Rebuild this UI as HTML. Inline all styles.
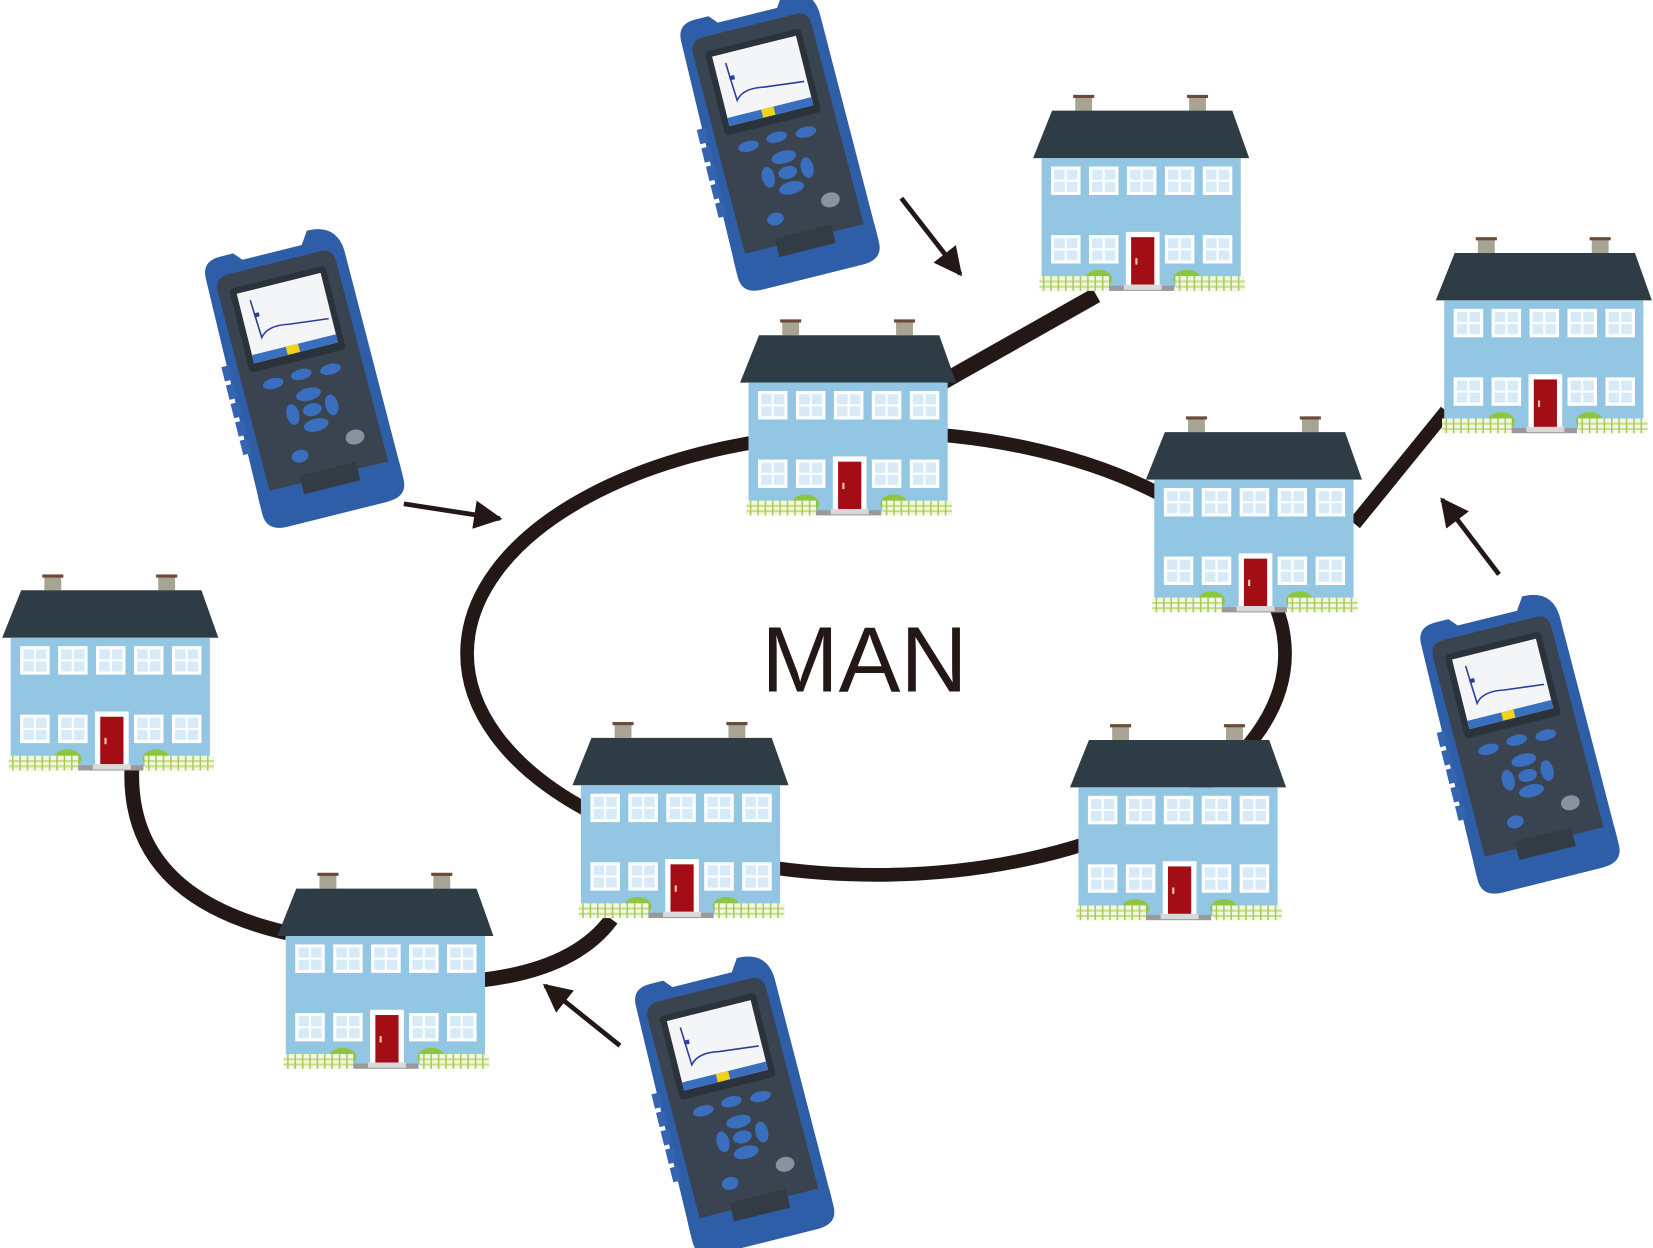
<!DOCTYPE html>
<html><head><meta charset="utf-8"><style>html,body{margin:0;padding:0;background:#fff}svg{display:block}</style></head>
<body>
<svg width="1653" height="1248" viewBox="0 0 1568 1184" xmlns="http://www.w3.org/2000/svg">
<defs>
<g id="win"><rect width="28" height="27" fill="#fff"/><rect x="3" y="3" width="10" height="9.5" fill="#d6ebf7"/><rect x="15" y="3" width="10" height="9.5" fill="#d6ebf7"/><rect x="3" y="14.5" width="10" height="9.5" fill="#d6ebf7"/><rect x="15" y="14.5" width="10" height="9.5" fill="#d6ebf7"/></g>
<g id="fence"><rect x="0" y="0" width="66" height="14" fill="#f4f8e6"/><g stroke="#c9dd8c" stroke-width="2"><line x1="0" y1="5" x2="66" y2="5"/><line x1="0" y1="10" x2="66" y2="10"/></g><g stroke="#a8cc5a" stroke-width="1.5"><line x1="4" y1="0" x2="4" y2="14"/><line x1="11" y1="0" x2="11" y2="14"/><line x1="18" y1="0" x2="18" y2="14"/><line x1="25" y1="0" x2="25" y2="14"/><line x1="32" y1="0" x2="32" y2="14"/><line x1="39" y1="0" x2="39" y2="14"/><line x1="46" y1="0" x2="46" y2="14"/><line x1="53" y1="0" x2="53" y2="14"/><line x1="60" y1="0" x2="60" y2="14"/></g></g>
<g id="house">
<rect x="40" y="-13" width="16" height="13" fill="#a8a493"/><rect x="38" y="-15" width="20" height="3" fill="#6b4a36"/>
<rect x="148" y="-13" width="16" height="13" fill="#a8a493"/><rect x="146" y="-15" width="20" height="3" fill="#6b4a36"/>
<polygon points="18,0 189,0 205,45 0,45" fill="#2e3d45"/>
<rect x="8" y="45" width="189" height="122" fill="#93c6e2"/>
<use href="#win" x="17" y="53"/><use href="#win" x="53" y="53"/><use href="#win" x="89" y="53"/><use href="#win" x="125" y="53"/><use href="#win" x="161" y="53"/>
<use href="#win" x="17" y="118"/><use href="#win" x="53" y="118"/><use href="#win" x="125" y="118"/><use href="#win" x="161" y="118"/>
<rect x="88" y="115" width="32" height="52" fill="#fff"/><rect x="93" y="120" width="22" height="45" fill="#a30d16"/><rect x="97" y="140" width="2" height="6" fill="#f5c9b0"/>
<ellipse cx="62" cy="160" rx="13" ry="9" fill="#8cc63f"/><ellipse cx="146" cy="160" rx="13" ry="9" fill="#8cc63f"/>
<use href="#fence" x="6" y="157"/><use href="#fence" x="135" y="157"/>
<rect x="72" y="166" width="62" height="5" fill="#9a9a9a"/><rect x="86" y="165" width="36" height="5" fill="#d9d9d9"/>
</g>
<g id="dev">
<path d="M-66,-115 Q-66,-132 -48,-132 L-35,-132 L-28,-124 L30,-124 L38,-136 Q66,-136 68,-110 L70,110 Q70,132 48,132 L-48,132 Q-68,132 -68,110 Z" fill="#2f5ea8"/>
<path d="M-58,-100 Q-58,-114 -44,-114 L46,-114 Q58,-114 58,-100 L60,95 L-56,95 Z" fill="#3a4450"/>
<rect x="-47" y="-100" width="94" height="82" rx="4" fill="#2a323b"/>
<rect x="-41" y="-94" width="82" height="68" fill="#f3f5f7"/>
<rect x="-41" y="-34" width="82" height="8" fill="#3a6fc0"/><rect x="-8" y="-34" width="12" height="8" fill="#f2d31a"/>
<path d="M-30,-85 L-28,-48 Q-20,-58 0,-54 L38,-50" stroke="#2d3c9a" stroke-width="1.5" fill="none"/>
<rect x="-30" y="-72" width="5" height="4" fill="#2d3c9a"/>
<ellipse cx="-28" cy="-3" rx="10" ry="5" fill="#3a6fc0"/><ellipse cx="0" cy="-5" rx="10" ry="5" fill="#3a6fc0"/><ellipse cx="28" cy="-3" rx="10" ry="5" fill="#3a6fc0"/>
<ellipse cx="2" cy="15" rx="12" ry="6" fill="#3a6fc0"/><ellipse cx="2" cy="45" rx="12" ry="6" fill="#3a6fc0"/><ellipse cx="-17" cy="30" rx="6" ry="10" fill="#3a6fc0"/><ellipse cx="21" cy="30" rx="6" ry="10" fill="#3a6fc0"/><ellipse cx="2" cy="30" rx="9" ry="6" fill="#3a6fc0"/>
<ellipse cx="-20" cy="70" rx="8" ry="6" fill="#3a6fc0"/><ellipse cx="35" cy="65" rx="9" ry="7" fill="#8a939d"/>
<path d="M-68,98 L70,98 L70,115 Q70,132 50,132 L-48,132 Q-68,132 -68,115 Z" fill="#2f5ea8"/>
<rect x="-25" y="88" width="55" height="18" fill="#333b44"/>
<g fill="#3565b0"><rect x="-72" y="-30" width="8" height="14"/><rect x="-72" y="-12" width="8" height="14"/><rect x="-72" y="6" width="8" height="14"/><rect x="-72" y="24" width="8" height="14"/><rect x="-72" y="42" width="8" height="14"/></g>
</g>
<marker id="ah" viewBox="0 0 10 10" refX="9" refY="5" markerWidth="6" markerHeight="6" orient="auto"><path d="M0,0 L10,5 L0,10 Z" fill="#231815"/></marker>
</defs>

<ellipse cx="831" cy="620" rx="388" ry="210" fill="none" stroke="#231815" stroke-width="13"/>
<line x1="895" y1="362" x2="1040" y2="280" stroke="#231815" stroke-width="15"/>
<line x1="1285" y1="497" x2="1372" y2="390" stroke="#231815" stroke-width="13"/>
<path d="M125,728 Q120,850 272,885" fill="none" stroke="#231815" stroke-width="14"/>
<path d="M455,930 Q545,920 580,872" fill="none" stroke="#231815" stroke-width="14"/>

<use href="#house" x="980" y="105"/>
<use href="#house" x="702" y="318"/>
<use href="#house" x="1087" y="410"/>
<use href="#house" x="1362" y="240"/>
<use href="#house" x="2" y="560"/>
<use href="#house" x="543" y="700"/>
<use href="#house" x="1015" y="702"/>
<use href="#house" x="263" y="843"/>

<g stroke="#231815" stroke-width="4.5" marker-end="url(#ah)">
<line x1="855" y1="188" x2="911" y2="260"/>
<line x1="383" y1="478" x2="474" y2="492"/>
<line x1="1422" y1="545" x2="1368" y2="474"/>
<line x1="588" y1="992" x2="517" y2="935"/>
</g>

<use href="#dev" transform="translate(738,135) rotate(-14)"/>
<use href="#dev" transform="translate(287,360) rotate(-14)"/>
<use href="#dev" transform="translate(1440,707) rotate(-14)"/>
<use href="#dev" transform="translate(695,1050) rotate(-14)"/>

<text x="820" y="656" font-family="Liberation Sans, sans-serif" font-size="88" text-anchor="middle" fill="#231815">MAN</text>
</svg>
</body></html>
